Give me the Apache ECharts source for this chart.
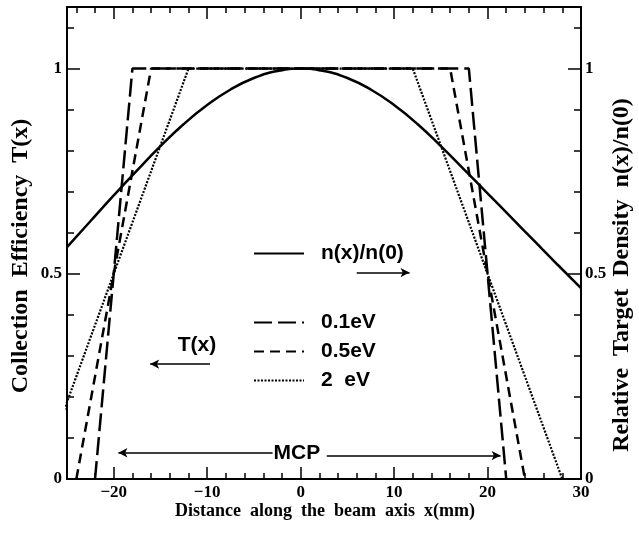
<!DOCTYPE html>
<html><head><meta charset="utf-8">
<script src="https://cdn.jsdelivr.net/npm/echarts@6/dist/echarts.min.js"></script>
<style>html,body{margin:0;padding:0;background:#fff}#c{width:639px;height:533px}</style>
</head><body><div id="c"></div>
<script>
// ---- data ----
const xDensity = [-25,-22.5,-20,-17.5,-15,-12.5,-10,-7.5,-5,-2.5,0,2.5,5,7.5,10,12.5,15,17.5,20,22.5,25,27.5,30];
const nDensity = [0.565,0.628,0.691,0.752,0.811,0.865,0.911,0.949,0.977,0.994,1.0,0.994,0.977,0.949,0.911,0.865,0.811,0.754,0.696,0.638,0.58,0.522,0.465];
const xT01 = [-22,-18,18,22];
const t01  = [0,1,1,0];
const xT05 = [-24,-16,16,24];
const t05  = [0,1,1,0];
const xT2  = [-28,-12,12,28];
const t2   = [0,1,1,0];
const xMajorTicks = [-20,-10,0,10,20,30];
const xMinorTicks = [-24,-22,-20,-18,-16,-14,-12,-10,-8,-6,-4,-2,0,2,4,6,8,10,12,14,16,18,20,22,24,26,28];
const yMajorTicks = [0,0.5,1];
const yMinorTicks = [0.1,0.2,0.3,0.4,0.5,0.6,0.7,0.8,0.9,1.0,1.1];
const seriesNames = ['n(x)/n(0)','0.1eV','0.5eV','2  eV'];
const xTitle = 'Distance  along  the  beam  axis  x(mm)';
const yLeftTitle = 'Collection  Efficiency  T(x)';
const yRightTitle = 'Relative  Target  Density  n(x)/n(0)';

const pairs = (xs, ys) => xs.map((x,i)=>[x, ys[i]]);
const serif = 'Liberation Serif';
const sans = 'Liberation Sans';
const axisLineStyle = {color:'#000', width:2};

function xAx(pos, ticks, len, labels, showLine) {
  return {
    type:'value', position:pos, min:-25, max:30, gridIndex:0,
    axisLine:{show:showLine, onZero:false, lineStyle:axisLineStyle},
    axisTick:{show:true, inside:true, length:len, customValues:ticks, lineStyle:{color:'#000', width:1.5}},
    axisLabel:{show:labels, customValues:xMajorTicks, color:'#000', fontFamily:serif, fontWeight:'bold', fontSize:17, margin:5,
      formatter: v => (v<0 ? '\u2212'+Math.abs(v) : String(v))},
    splitLine:{show:false}
  };
}
function yAx(pos, ticks, len, labels, showLine) {
  return {
    type:'value', position:pos, min:0, max:1.15, gridIndex:0,
    axisLine:{show:showLine, onZero:false, lineStyle:axisLineStyle},
    axisTick:{show:true, inside:true, length:len, customValues:ticks, lineStyle:{color:'#000', width:1.5}},
    axisLabel:{show:labels, customValues:yMajorTicks, color:'#000', fontFamily:serif, fontWeight:'bold', fontSize:17, margin:pos==='right'?4:5,
      formatter: v => String(v)},
    splitLine:{show:false}
  };
}
const legendText = {fontFamily:sans, fontWeight:'bold', fontSize:21, color:'#000', padding:[0,0,0,12]};

const chart = echarts.init(document.getElementById('c'), null, {renderer:'canvas'});
chart.setOption({
  animation:false,
  backgroundColor:'#fff',
  grid:{left:67, right:58, top:7, bottom:54},
  xAxis:[
    xAx('bottom', xMajorTicks, 12, true, true),
    xAx('bottom', xMinorTicks, 6, false, false),
    xAx('top', xMajorTicks, 12, false, true),
    xAx('top', xMinorTicks, 6, false, false)
  ],
  yAxis:[
    yAx('left', yMajorTicks, 13, true, true),
    yAx('left', yMinorTicks, 7, false, false),
    yAx('right', yMajorTicks, 13, true, true),
    yAx('right', yMinorTicks, 7, false, false)
  ],
  graphic:[
    {type:'text', x:325, y:511, style:{text:xTitle, font:'bold 18px "Liberation Serif"', fill:'#000', align:'center', verticalAlign:'middle'}},
    {type:'text', x:21, y:256, rotation:Math.PI/2, style:{text:yLeftTitle, font:'bold 24px "Liberation Serif"', fill:'#000', align:'center', verticalAlign:'middle'}},
    {type:'text', x:622, y:275, rotation:Math.PI/2, style:{text:yRightTitle, font:'bold 24px "Liberation Serif"', fill:'#000', align:'center', verticalAlign:'middle'}}
  ],
  legend:[
    {data:[seriesNames[0]], left:253, top:243, itemWidth:50, itemHeight:14, orient:'vertical',
     itemStyle:{opacity:0}, textStyle:legendText, padding:0, itemGap:10},
    {data:seriesNames.slice(1), left:253, top:312, itemWidth:50, itemHeight:14, orient:'vertical',
     itemStyle:{opacity:0}, textStyle:legendText, padding:0, itemGap:8}
  ],
  series:[
    {name:seriesNames[0], type:'line', xAxisIndex:0, yAxisIndex:2, data:pairs(xDensity,nDensity),
     symbol:'none', smooth:true, color:'#000', lineStyle:{color:'#000', width:2.5, type:'solid'}},
    {name:seriesNames[1], type:'line', xAxisIndex:0, yAxisIndex:0, data:pairs(xT01,t01),
     symbol:'none', color:'#000', lineStyle:{color:'#000', width:2.5, type:[18,6]}},
    {name:seriesNames[2], type:'line', xAxisIndex:0, yAxisIndex:0, data:pairs(xT05,t05),
     symbol:'none', color:'#000', lineStyle:{color:'#000', width:2.5, type:[10,6]}},
    {name:seriesNames[3], type:'line', xAxisIndex:0, yAxisIndex:0, data:pairs(xT2,t2),
     symbol:'none', color:'#000', lineStyle:{color:'#000', width:2.2, type:[2,1.5]}},
    {name:'annotations', type:'line', xAxisIndex:0, yAxisIndex:0, data:[], symbol:'none', silent:true,
     markLine:{silent:true, symbol:['none','arrow'], symbolSize:[7,9], animation:false,
       label:{show:false}, lineStyle:{color:'#000', width:1.5, type:'solid'},
       data:[
         [{coord:[-3.0,0.064]},{coord:[-19.5,0.064]}],
         [{coord:[2.8,0.057]},{coord:[21.4,0.057]}],
         [{coord:[6,0.503]},{coord:[11.65,0.503]}],
         [{coord:[-9.7,0.28]},{coord:[-16.1,0.28]}]
       ]},
     markPoint:{silent:true, symbol:'rect', symbolSize:1, itemStyle:{color:'rgba(0,0,0,0)'},
       label:{show:true, position:'inside', formatter:'{b}', color:'#000', fontFamily:sans, fontWeight:'bold', fontSize:21},
       data:[
         {name:'MCP', coord:[-0.4,0.064]},
         {name:'T(x)', coord:[-11.1,0.325]}
       ]}
    }
  ]
});
</script></body></html>
